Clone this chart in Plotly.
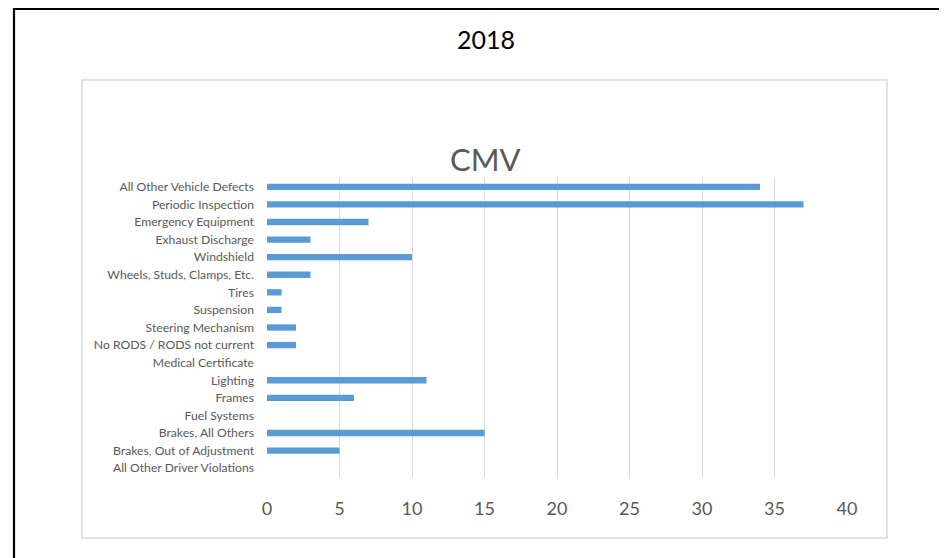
import plotly.graph_objects as go

categories = [
    "All Other Vehicle Defects",
    "Periodic Inspection",
    "Emergency Equipment",
    "Exhaust Discharge",
    "Windshield",
    "Wheels, Studs, Clamps, Etc.",
    "Tires",
    "Suspension",
    "Steering Mechanism",
    "No RODS / RODS not current",
    "Medical Certificate",
    "Lighting",
    "Frames",
    "Fuel Systems",
    "Brakes, All Others",
    "Brakes, Out of Adjustment",
    "All Other Driver Violations",
]
values = [34, 37, 7, 3, 10, 3, 1, 1, 2, 2, 0, 11, 6, 0, 15, 5, 0]
x_ticks = [0, 5, 10, 15, 20, 25, 30, 35, 40]

# page body has an 8px margin, so the figure is laid out 8px smaller
OFF = 8
W, H = 947 - OFF, 558 - OFF
L, R, T, B = 267 - OFF, 847 - OFF, 178 - OFF, 477 - OFF  # plot area in figure pixels


def px(x):
    return (x - OFF - L) / (R - L)


def py(y):
    return (B - (y - OFF)) / (B - T)


fig = go.Figure(go.Bar(
    x=values, y=categories, orientation="h",
    marker=dict(color="#5b9bd5", line=dict(width=0)),
    width=0.36,
))

fig.update_layout(
    width=W, height=H,
    margin=dict(l=L, r=W - R, t=T, b=H - B, pad=0),
    paper_bgcolor="white", plot_bgcolor="white",
    font=dict(family="Lato, Open Sans, sans-serif", color="#595959"),
    showlegend=False,
    bargap=0.64,
)
fig.update_xaxes(
    range=[0, 40], tickvals=x_ticks, ticktext=[str(v) for v in x_ticks],
    showgrid=True, gridcolor="#d9d9d9", gridwidth=1.3,
    zeroline=False, showline=False,
    tickfont=dict(size=18, color="#595959"),
    ticks="", ticklabelstandoff=19,
)
fig.update_yaxes(
    autorange="reversed", categoryorder="array", categoryarray=categories,
    showgrid=False, zeroline=False, showline=False,
    tickfont=dict(size=12.2, color="#595959"),
    ticks="", ticklabelstandoff=12,
)

# outer black frame (extends past the canvas on right and bottom)
fig.add_shape(type="rect", xref="paper", yref="paper",
              x0=px(14), x1=px(980), y0=py(9), y1=py(580),
              line=dict(color="black", width=2.2), layer="below")
# inner chart frame
fig.add_shape(type="rect", xref="paper", yref="paper",
              x0=px(82), x1=px(887), y0=py(80), y1=py(538),
              line=dict(color="#d9d9d9", width=1.5), layer="below")

fig.add_annotation(text="2018", xref="paper", yref="paper",
                   x=px(486), y=py(39), xanchor="center", yanchor="middle",
                   showarrow=False, font=dict(size=25, color="black", family="Lato, sans-serif"))
fig.add_annotation(text="CMV", xref="paper", yref="paper",
                   x=px(485), y=py(159), xanchor="center", yanchor="middle",
                   showarrow=False, font=dict(size=31, color="#595959", family="Lato, sans-serif"))

fig.write_html("out.html")
